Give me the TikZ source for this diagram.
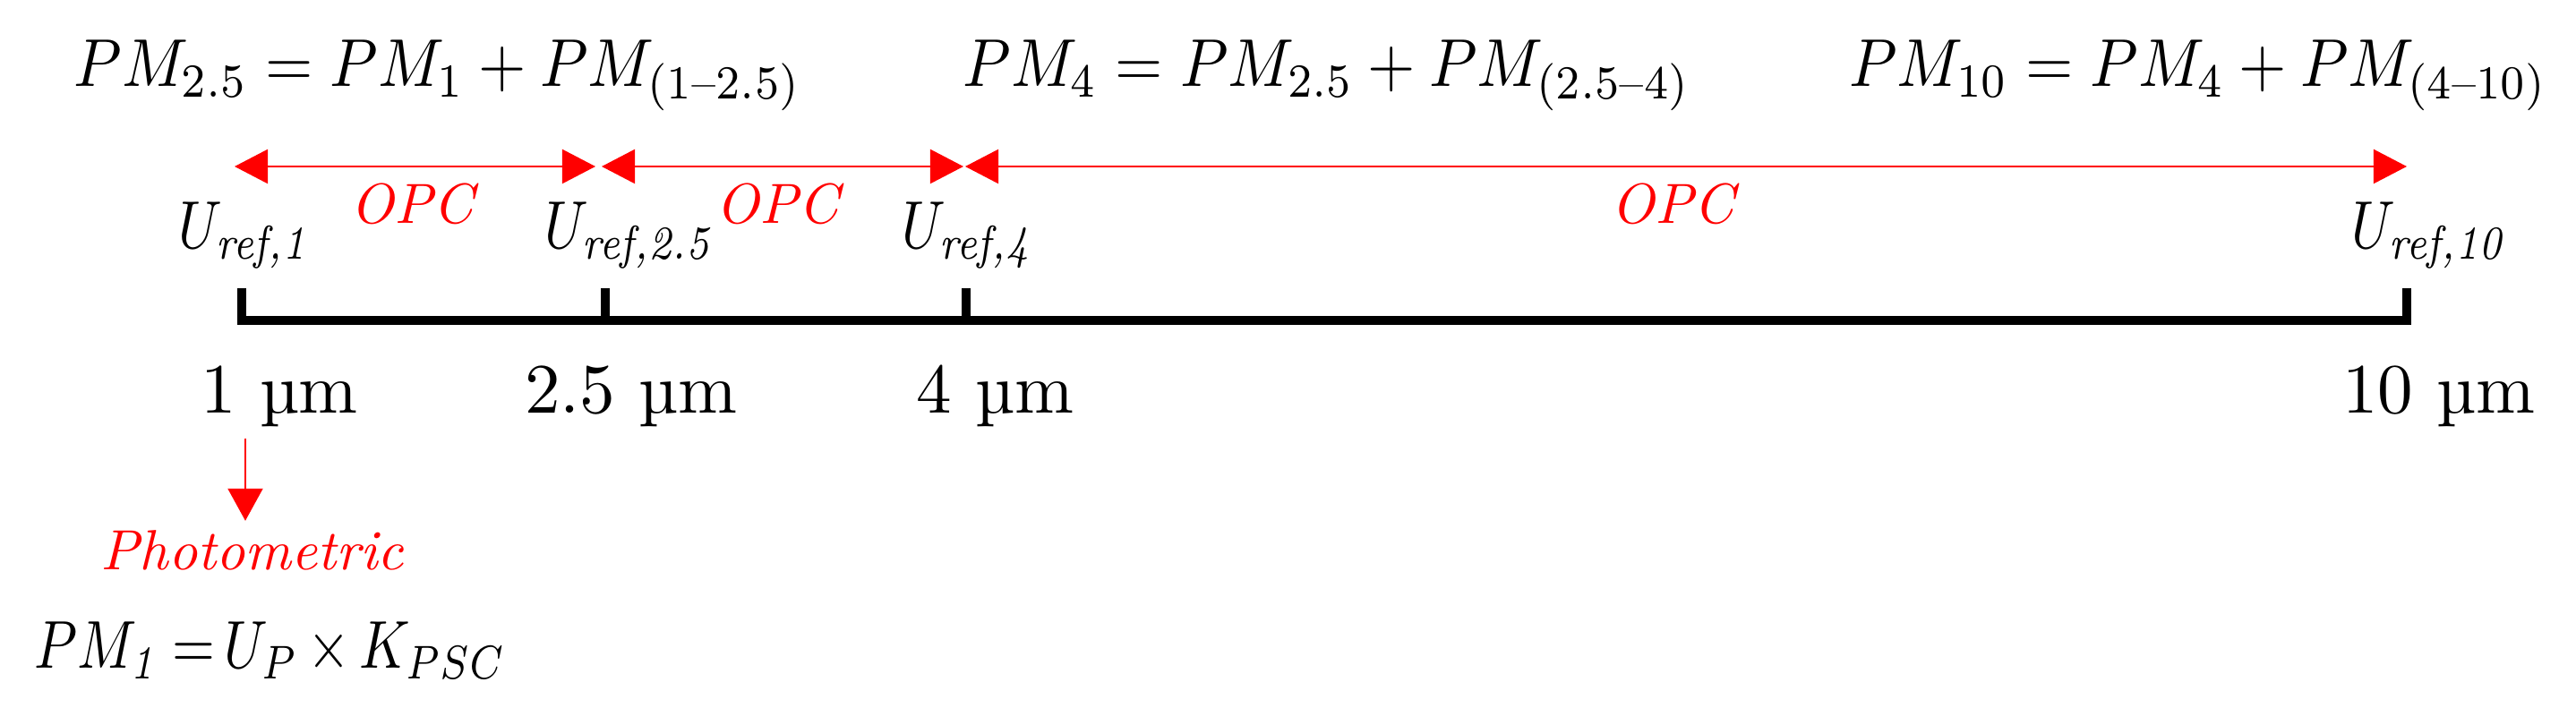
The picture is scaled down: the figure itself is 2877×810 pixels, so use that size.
\documentclass[tikz,border=0pt]{standalone}
\usepackage{fontspec}
\usepackage{amsmath}
\usetikzlibrary{arrows.meta}

\begin{document}
\begin{tikzpicture}[x = .01cm, y = -.01cm,
		eqn/.style = {xscale = 1.95, yscale = 2.15, inner sep = 0pt},
		narroweqn/.style = {xscale = 1.75, yscale = 2.15, inner sep = 0pt},
		redlbl/.style = {text = red, scale = 1.8, inner sep = 0pt, font = \itshape},
		unitlbl/.style = {scale = 2.25, inner sep = 0pt},
		axisline/.style = {line width = 2.6pt},
		opcarrow/.style = {red, line width = .6pt, {Triangle[length = .37cm, width = .38cm]}-{Triangle[length = .37cm, width = .38cm]}},
		photoarrow/.style = {red, line width = .6pt, -{Triangle[length = .36cm, width = .39cm]}}]
		\useasboundingbox (0,0) rectangle (2877,810);
		
		\node (Eq25) at (489,97) [eqn, anchor = base] {$PM_{2.5} = PM_1 + PM_{(1\text{--}2.5)}$};
		\node (Eq4) at (1482,97) [eqn, anchor = base] {$PM_4 = PM_{2.5} + PM_{(2.5\text{--}4)}$};
		\node (Eq10) at (2455,97) [eqn, anchor = base] {$PM_{10} = PM_4 + PM_{(4\text{--}10)}$};
		
		\coordinate (O1a) at (262,186);
		\coordinate (O1b) at (665,186);
		\coordinate (O2a) at (672,186);
		\coordinate (O2b) at (1076,186);
		\coordinate (O3a) at (1078,186);
		\coordinate (O3b) at (2688,186);
		\draw [opcarrow] (O1a) -- (O1b);
		\draw [opcarrow] (O2a) -- (O2b);
		\draw [opcarrow] (O3a) -- (O3b);
		
		\node (Opc1) at (460,250) [redlbl, anchor = base] {OPC};
		\node (Opc2) at (868,250) [redlbl, anchor = base] {OPC};
		\node (Opc3) at (1868,250) [redlbl, anchor = base] {OPC};
		
		\node (Uref1) at (198,278) [narroweqn, anchor = base west] {$U_{\textit{ref,1}}$};
		\node (Uref25) at (607,278) [narroweqn, anchor = base west] {$U_{\textit{ref,2.5}}$};
		\node (Uref4) at (1006,278) [narroweqn, anchor = base west] {$U_{\textit{ref,4}}$};
		\node (Uref10) at (2625,278) [narroweqn, anchor = base west] {$U_{\textit{ref,10}}$};
		
		\coordinate (T1) at (270,358);
		\coordinate (T25) at (676,358);
		\coordinate (T4) at (1079,358);
		\coordinate (T10) at (2688,358);
		\coordinate (T1up) at (270,322);
		\coordinate (T25up) at (676,322);
		\coordinate (T4up) at (1079,322);
		\coordinate (T10up) at (2688,322);
		\draw [axisline] (T1up) -- (T1) -- (T10) -- (T10up);
		\draw [axisline] (T25up) -- (T25);
		\draw [axisline] (T4up) -- (T4);
		
		\node (Um1) at (312,462) [unitlbl, anchor = base] {1 µm};
		\node (Um25) at (705,462) [unitlbl, anchor = base] {2.5 µm};
		\node (Um4) at (1111,462) [unitlbl, anchor = base] {4 µm};
		\node (Um10) at (2724,462) [unitlbl, anchor = base] {10 µm};
		
		\node (Photo) at (282,637) [redlbl, anchor = base] {Photometric};
		\coordinate (Ph) at (274,490);
		\draw [photoarrow, shorten > = .1cm] (Ph) -- (Ph |- Photo.north);
		
		\node (Eq1) at (37,747) [narroweqn, anchor = base west] {$PM_{\textit{1}}\;{=}\,U_P\,{\times}\,K_{PSC}$};
		\end{tikzpicture}
\end{document}
